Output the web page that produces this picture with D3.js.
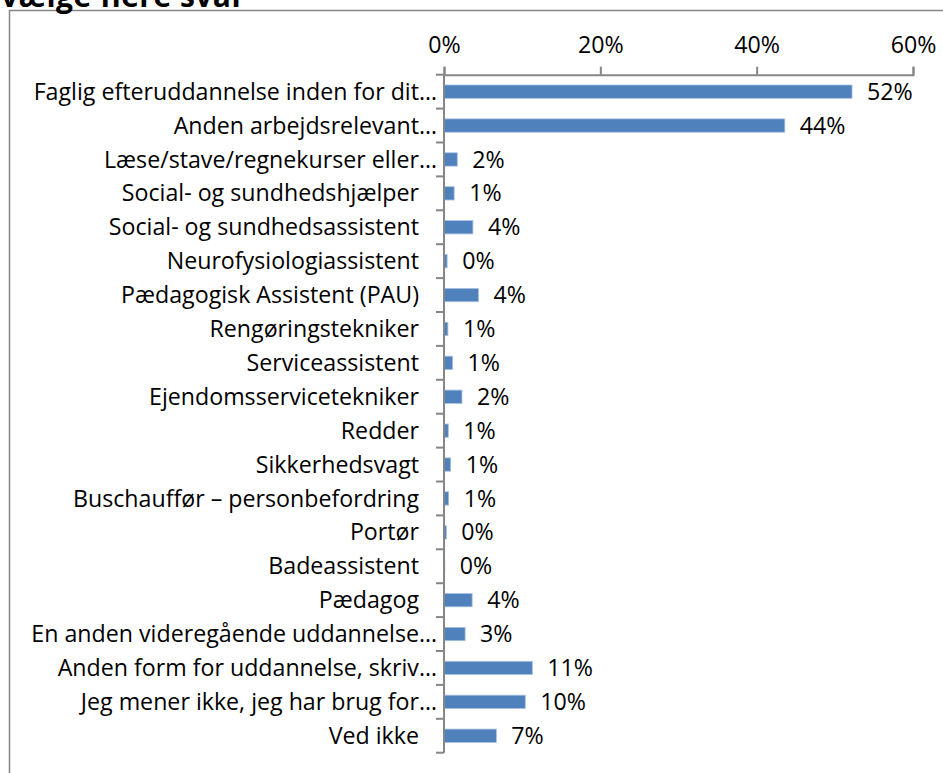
<!DOCTYPE html>
<html>
<head>
<meta charset="utf-8">
<script src="https://cdn.jsdelivr.net/npm/d3@7"></script>
<style>
  body { margin: 0; background: #fff; }
  svg { display: block; }
  text { font-family: "Open Sans", Lato, sans-serif; fill: #000; }
</style>
</head>
<body>
<svg id="chart" width="943" height="773"></svg>
<script>
// categories, top to bottom
const categories = [
  "Faglig efteruddannelse inden for dit…",
  "Anden arbejdsrelevant…",
  "Læse/stave/regnekurser eller…",
  "Social- og sundhedshjælper",
  "Social- og sundhedsassistent",
  "Neurofysiologiassistent",
  "Pædagogisk Assistent (PAU)",
  "Rengøringstekniker",
  "Serviceassistent",
  "Ejendomsservicetekniker",
  "Redder",
  "Sikkerhedsvagt",
  "Buschauffør – personbefordring",
  "Portør",
  "Badeassistent",
  "Pædagog",
  "En anden videregående uddannelse…",
  "Anden form for uddannelse, skriv…",
  "Jeg mener ikke, jeg har brug for…",
  "Ved ikke"
];
// share of answers (fraction)
const values = [
  0.522, 0.436, 0.017, 0.013, 0.037, 0.004, 0.044, 0.005, 0.011, 0.023,
  0.0055, 0.0085, 0.006, 0.003, 0.001, 0.036, 0.027, 0.113, 0.104, 0.067
];
const xTicks = [0, 0.2, 0.4, 0.6];
const titleText = "vælge flere svar";

const data = categories.map((c, i) => ({name: c, value: values[i]}));

const svg = d3.select("#chart");
const fontSize = 23.2;
const axisColor = "#868686";
const barColor = "#4f81bd";

// chart frame (runs off the right/bottom edge of the picture)
svg.append("rect")
    .attr("x", 9.5).attr("y", 10.5)
    .attr("width", 1000).attr("height", 1000)
    .attr("fill", "none")
    .attr("stroke", axisColor)
    .attr("stroke-width", 1.5);

// title, cut at the top like the source
svg.append("text")
    .attr("x", 1).attr("y", 7)
    .attr("font-size", 30)
    .attr("font-weight", "bold")
    .attr("textLength", 244)
    .text(titleText);

const x = d3.scaleLinear().domain([0, 0.6]).range([444, 913]);
const plotTop = 74.7, plotBottom = 752.7;
const y = d3.scaleBand()
    .domain(categories)
    .range([plotTop, plotBottom])
    .paddingInner(0.607)
    .paddingOuter(0.3035);

// bars
svg.selectAll("rect.bar")
    .data(data)
    .join("rect")
    .attr("class", "bar")
    .attr("x", x(0))
    .attr("y", d => y(d.name))
    .attr("width", d => x(d.value) - x(0))
    .attr("height", y.bandwidth())
    .attr("fill", barColor)
    .attr("stroke", "#a9c1e0")
    .attr("stroke-width", 0.8);

// top value axis
const xAxis = d3.axisTop(x)
    .tickValues(xTicks)
    .tickSize(8)
    .tickPadding(14)
    .tickFormat(d3.format(".0%"));

const gx = svg.append("g")
    .attr("transform", "translate(0," + plotTop + ")")
    .call(xAxis);
gx.select(".domain").attr("stroke", axisColor).attr("stroke-width", 2);
gx.selectAll(".tick line").attr("stroke", axisColor).attr("stroke-width", 2);
gx.selectAll(".tick text").attr("font-size", fontSize).attr("font-family", null).attr("fill", "#000");

// category axis: ticks sit between the categories
const step = y.step();
const tickY = d3.range(categories.length + 1).map(i => plotTop + i * step);
svg.append("line")
    .attr("x1", x(0)).attr("x2", x(0))
    .attr("y1", plotTop).attr("y2", plotBottom)
    .attr("stroke", axisColor).attr("stroke-width", 2);
svg.selectAll("line.ytick")
    .data(tickY)
    .join("line")
    .attr("class", "ytick")
    .attr("x1", x(0) - 8).attr("x2", x(0))
    .attr("y1", d => d).attr("y2", d => d)
    .attr("stroke", axisColor).attr("stroke-width", 2);

// category labels (truncated ones sit a bit further right, as in Excel)
svg.selectAll("text.cat")
    .data(data)
    .join("text")
    .attr("class", "cat")
    .attr("x", d => d.name.endsWith("…") ? 437 : 419)
    .attr("y", d => y(d.name) + y.bandwidth() / 2)
    .attr("dy", "0.35em")
    .attr("text-anchor", "end")
    .attr("font-size", fontSize)
    .text(d => d.name);

// value labels
svg.selectAll("text.val")
    .data(data)
    .join("text")
    .attr("class", "val")
    .attr("x", d => x(d.value) + 15)
    .attr("y", d => y(d.name) + y.bandwidth() / 2)
    .attr("dy", "0.35em")
    .attr("font-size", fontSize)
    .text(d => Math.round(d.value * 100) + "%");
</script>
</body>
</html>
